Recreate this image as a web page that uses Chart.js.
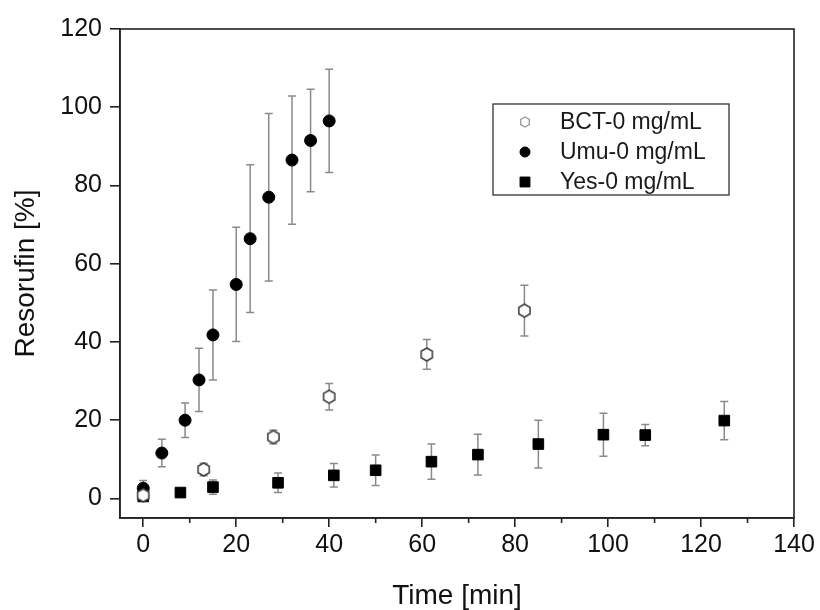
<!DOCTYPE html>
<html>
<head>
<meta charset="utf-8">
<script src="https://cdn.jsdelivr.net/npm/chart.js@4.4.1/dist/chart.umd.min.js"></script>
<style>
  html, body { margin: 0; padding: 0; background: #fff; }
  #wrap { width: 820px; height: 610px; }
</style>
</head>
<body>
<div id="wrap"><canvas id="chart" width="820" height="610"></canvas></div>
<script>
// ---- data ----
const bctTime = [0, 13, 28, 40, 61, 82];
const bctVal  = [0.8, 7.4, 15.7, 26.0, 36.8, 48.0];
const bctErr  = [1.0, 1.6, 1.7, 3.4, 3.8, 6.5];

const umuTime = [0, 4, 9, 12, 15, 20, 23, 27, 32, 36, 40];
const umuVal  = [2.6, 11.6, 20.0, 30.3, 41.8, 54.7, 66.4, 77.0, 86.5, 91.5, 96.5];
const umuErr  = [2.0, 3.5, 4.4, 8.1, 11.5, 14.6, 18.9, 21.4, 16.4, 13.1, 13.2];

const yesTime = [0, 8, 15, 29, 41, 50, 62, 72, 85, 99, 108, 125];
const yesVal  = [0.5, 1.5, 2.9, 4.0, 5.9, 7.2, 9.4, 11.2, 13.9, 16.3, 16.2, 19.9];
const yesErr  = [0.8, 0.3, 1.8, 2.5, 3.0, 3.9, 4.5, 5.2, 6.1, 5.5, 2.7, 4.9];

const seriesNames = ["BCT-0 mg/mL", "Umu-0 mg/mL", "Yes-0 mg/mL"];
const xTicks = [0, 20, 40, 60, 80, 100, 120, 140];
const yTicks = [0, 20, 40, 60, 80, 100, 120];

const FONT = "'Liberation Sans', Arial, sans-serif";

// hexagon marker (no built-in one in Chart.js)
function makeHex(r, stroke, lw) {
  const size = Math.ceil(2 * r + lw + 2);
  const c = document.createElement("canvas");
  c.width = size; c.height = size;
  const g = c.getContext("2d");
  g.beginPath();
  for (let k = 0; k < 6; k++) {
    const a = Math.PI / 2 + k * Math.PI / 3;
    const px = size / 2 + r * Math.cos(a), py = size / 2 - r * Math.sin(a);
    if (k === 0) g.moveTo(px, py); else g.lineTo(px, py);
  }
  g.closePath();
  g.fillStyle = "#fff"; g.fill();
  g.strokeStyle = stroke; g.lineWidth = lw; g.stroke();
  return c;
}
const hexPoint = makeHex(6.5, "#444", 1.6);
const hexLegend = makeHex(5, "#999", 1.3);

function pts(xs, ys) { return xs.map((x, i) => ({ x: x, y: ys[i] })); }
const errs = [bctErr, umuErr, yesErr];

// error bars drawn under the markers
const errorBars = {
  id: "errorBars",
  beforeDatasetsDraw(chart) {
    const ctx = chart.ctx, xs = chart.scales.x, ys = chart.scales.y;
    ctx.save();
    ctx.strokeStyle = "#8a8a8a";
    ctx.lineWidth = 1.5;
    chart.data.datasets.forEach((ds, i) => {
      ds.data.forEach((p, j) => {
        const e = errs[i][j];
        const px = xs.getPixelForValue(p.x);
        const t = ys.getPixelForValue(p.y + e), b = ys.getPixelForValue(p.y - e);
        ctx.beginPath();
        ctx.moveTo(px, t); ctx.lineTo(px, b);
        ctx.moveTo(px - 4, t); ctx.lineTo(px + 4, t);
        ctx.moveTo(px - 4, b); ctx.lineTo(px + 4, b);
        ctx.stroke();
      });
    });
    ctx.restore();
  }
};

// frame, minor x ticks, legend box
const decorations = {
  id: "decorations",
  afterDraw(chart) {
    const ctx = chart.ctx, a = chart.chartArea, xs = chart.scales.x;
    ctx.save();
    ctx.strokeStyle = "#222";
    ctx.lineWidth = 1.6;
    ctx.strokeRect(a.left, a.top, a.right - a.left, a.bottom - a.top);
    // minor ticks halfway between major ticks
    for (let k = 0; k < xTicks.length - 1; k++) {
      const px = xs.getPixelForValue((xTicks[k] + xTicks[k + 1]) / 2);
      ctx.beginPath();
      ctx.moveTo(px, a.bottom); ctx.lineTo(px, a.bottom + 5);
      ctx.stroke();
    }
    // legend
    const bx = 493, by = 104, bw = 236, bh = 91;
    ctx.lineWidth = 1.3;
    ctx.strokeStyle = "#333";
    ctx.strokeRect(bx, by, bw, bh);
    const rows = [122, 152, 182];
    const icons = [hexLegend, "circle", "rect"];
    const radii = [5, 5, 7];
    ctx.font = "23px " + FONT;
    ctx.textBaseline = "middle";
    seriesNames.forEach((name, i) => {
      ctx.fillStyle = "#000";
      ctx.strokeStyle = "#000";
      ctx.lineWidth = 1;
      Chart.helpers.drawPoint(ctx, { pointStyle: icons[i], radius: radii[i], rotation: 0, borderWidth: 1 }, 525, rows[i]);
      ctx.fillStyle = "#1a1a1a";
      ctx.fillText(name, 560, rows[i] + 1);
    });
    ctx.restore();
  }
};

const ctx = document.getElementById("chart").getContext("2d");
new Chart(ctx, {
  type: "scatter",
  data: {
    datasets: [
      { label: seriesNames[0], data: pts(bctTime, bctVal), pointStyle: hexPoint, pointRadius: 7 },
      { label: seriesNames[1], data: pts(umuTime, umuVal), pointStyle: "circle", pointRadius: 6,
        backgroundColor: "#000", borderColor: "#000", borderWidth: 1 },
      { label: seriesNames[2], data: pts(yesTime, yesVal), pointStyle: "rect", pointRadius: 7.5,
        backgroundColor: "#000", borderColor: "#000", borderWidth: 1 }
    ]
  },
  options: {
    responsive: false,
    animation: false,
    layout: { padding: { top: 29, right: 26, left: 0, bottom: 0 } },
    plugins: { legend: { display: false }, tooltip: { enabled: false } },
    elements: { point: { hoverRadius: 6 } },
    scales: {
      x: {
        type: "linear", min: -5, max: 140,
        afterBuildTicks: s => { s.ticks = xTicks.map(v => ({ value: v })); },
        afterFit: s => { s.height = 92; },
        grid: { drawOnChartArea: false, drawTicks: true, tickLength: 9, color: "#222", lineWidth: 1.6 },
        border: { display: true, color: "#222", width: 1.6 },
        ticks: { color: "#111", font: { family: FONT, size: 25 }, padding: 3, maxRotation: 0 },
        title: { display: true, text: "Time [min]", color: "#111", font: { family: FONT, size: 28, lineHeight: 1 }, padding: { top: 0, bottom: 0 } }
      },
      y: {
        type: "linear", min: -5, max: 120,
        afterBuildTicks: s => { s.ticks = yTicks.map(v => ({ value: v })); },
        afterFit: s => { s.width = 120; },
        grid: { drawOnChartArea: false, drawTicks: true, tickLength: 10, color: "#222", lineWidth: 1.6 },
        border: { display: true, color: "#222", width: 1.6 },
        ticks: { color: "#111", font: { family: FONT, size: 25 }, padding: 8 },
        title: { display: true, text: "Resorufin [%]", color: "#111", font: { family: FONT, size: 28, lineHeight: 1 }, padding: { top: 12, bottom: 0 } }
      }
    }
  },
  plugins: [errorBars, decorations]
});
</script>
</body>
</html>
